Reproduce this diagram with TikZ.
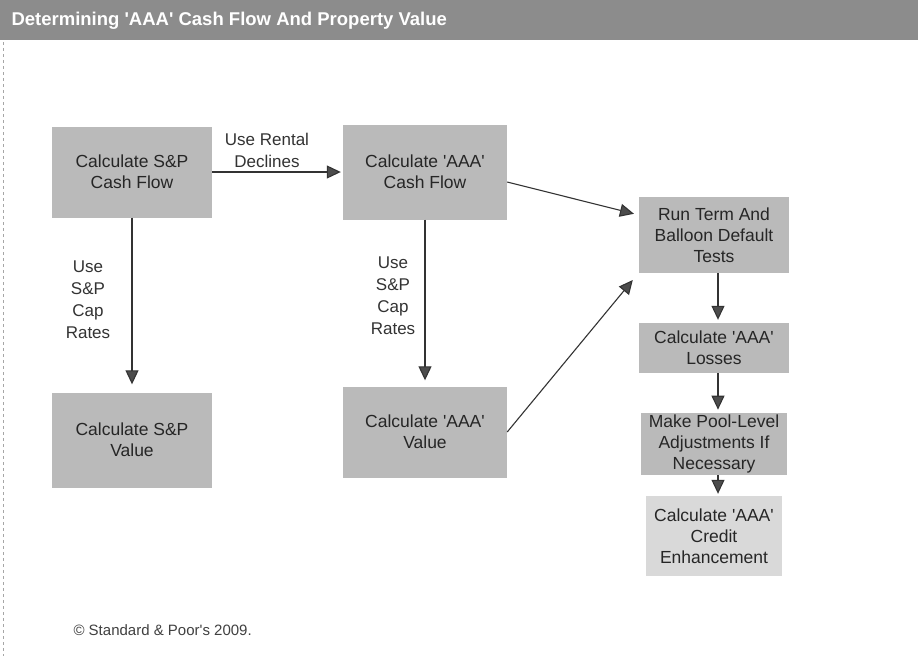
\documentclass[tikz,border=0pt]{standalone}
\usepackage{fontspec}
\setmainfont{Liberation Sans}
\usetikzlibrary{arrows.meta}
\newcommand{\qq}{\textquotesingle}
\begin{document}
\begin{tikzpicture}[x=1pt,y=-1pt,
  box/.style={fill=black!27, draw=none, align=center, inner sep=2pt,
    font=\fontsize{17.5}{21}\selectfont, text=black!85},
  lbl/.style={align=center, font=\fontsize{17}{22}\selectfont, text=black!80},
  conn/.style={draw=black!80, line width=1.1pt,
    -{Triangle[length=14pt,width=13pt,fill=black!70]}}]
\useasboundingbox (0,0) rectangle (918,656);
\fill[white] (0,0) rectangle (918,656);
% title bar
\fill[black!45] (0,0) rectangle (918,40);
\node[anchor=west, text=white, font=\fontsize{18.5}{22}\selectfont\bfseries] (title) at (8,21)
  {Determining \qq AAA\qq{} Cash Flow And Property Value};
% left dashed edge
\draw[black!35, dashed, line width=0.6pt] (3,42) -- (3,656);
% boxes
\node[box, minimum width=160pt, minimum height=91pt] (b1) at (132,172) {Calculate S\&P\\Cash Flow};
\node[box, minimum width=164pt, minimum height=95pt] (b2) at (425,172) {Calculate \qq AAA\qq\\Cash Flow};
\node[box, minimum width=160pt, minimum height=95pt] (b7) at (132,440) {Calculate S\&P\\Value};
\node[box, minimum width=164pt, minimum height=91pt] (b8) at (425,432) {Calculate \qq AAA\qq\\Value};
\node[box, minimum width=150pt, minimum height=76pt] (b3) at (714,235) {Run Term And\\Balloon Default\\Tests};
\node[box, minimum width=150pt, minimum height=50pt] (b4) at (714,348) {Calculate \qq AAA\qq\\Losses};
\node[box, minimum width=146pt, minimum height=62pt] (b5) at (714,444) {Make Pool-Level\\Adjustments If\\Necessary};
\node[box, fill=black!15, minimum width=136pt, minimum height=80pt] (b6) at (714,536) {Calculate \qq AAA\qq\\Credit\\Enhancement};
% labels
\node[lbl] (l1) at (267,150) {Use Rental\\Declines};
\node[lbl] (l2) at (88,300) {Use\\S\&P\\Cap\\Rates};
\node[lbl] (l3) at (393,296) {Use\\S\&P\\Cap\\Rates};
% connectors
\draw[conn, shorten >=2pt] (b1.east) -- (b2.west);
\draw[conn, shorten >=8pt] (b1.south) -- (b7.north);
\draw[conn, shorten >=6pt] (b2.south) -- (b8.north);
\draw[conn, shorten >=5pt] ([yshift=-10pt]b2.east) -- ([yshift=20pt]b3.west);
\draw[conn] (b8.east) -- ([xshift=-6pt,yshift=-45pt]b3.west);
\draw[conn, shorten >=3pt] ([xshift=4pt]b3.south) -- ([xshift=4pt]b4.north);
\draw[conn, shorten >=3pt] ([xshift=4pt]b4.south) -- ([xshift=4pt]b5.north);
\draw[conn, shorten >=2pt] ([xshift=4pt]b5.south) -- ([xshift=4pt]b6.north);
% footnote
\node[anchor=west, font=\fontsize{15}{18}\selectfont, text=black!75] (fn) at (70,630) {© Standard \& Poor\qq s 2009.};
\end{tikzpicture}
\end{document}
